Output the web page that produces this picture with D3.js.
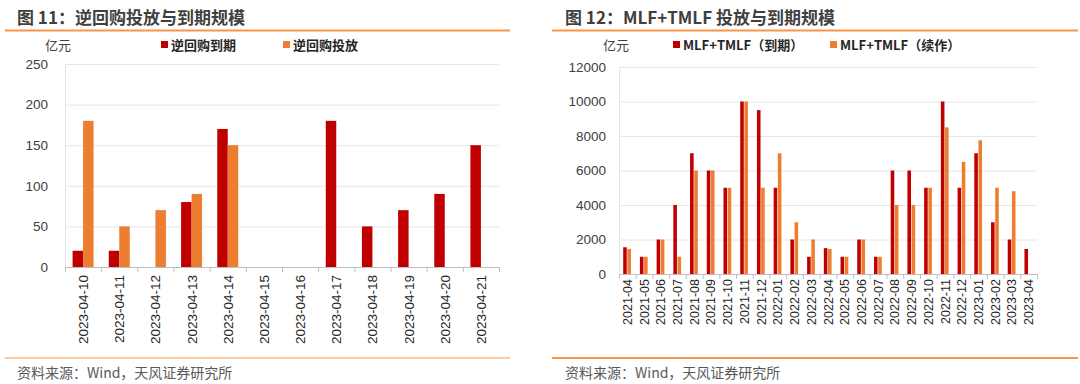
<!DOCTYPE html>
<html>
<head>
<meta charset="utf-8">
<script src="https://cdn.jsdelivr.net/npm/d3@7"></script>
<style>
  body { margin: 0; background: #fff; }
  svg { display: block; font-family: "Noto Sans CJK SC", "Liberation Sans", sans-serif; }
  .grid line { stroke: #e6e6e6; }
  .tick text { fill: #404040; }
</style>
</head>
<body>
<svg id="chart" width="1080" height="384"></svg>
<script>
// left chart: reverse repo
const repoDates = ["2023-04-10","2023-04-11","2023-04-12","2023-04-13","2023-04-14","2023-04-15",
  "2023-04-16","2023-04-17","2023-04-18","2023-04-19","2023-04-20","2023-04-21"];
const repoMaturity = [20, 20, 0, 80, 170, 0, 0, 180, 50, 70, 90, 150];
const repoInjection = [180, 50, 70, 90, 150, 0, 0, 0, 0, 0, 0, 0];
const repoTicks = [0, 50, 100, 150, 200, 250];

// right chart: MLF + TMLF
const mlfMonths = ["2021-04","2021-05","2021-06","2021-07","2021-08","2021-09","2021-10","2021-11","2021-12",
  "2022-01","2022-02","2022-03","2022-04","2022-05","2022-06","2022-07","2022-08","2022-09","2022-10",
  "2022-11","2022-12","2023-01","2023-02","2023-03","2023-04"];
const mlfMaturity = [1550, 1000, 2000, 4000, 7000, 6000, 5000, 10000, 9500, 5000, 2000, 1000, 1500,
  1000, 2000, 1000, 6000, 6000, 5000, 10000, 5000, 7000, 3000, 2000, 1450];
const mlfRollover = [1450, 1000, 2000, 1000, 6000, 6000, 5000, 10000, 5000, 7000, 3000, 2000, 1450,
  1000, 2000, 1000, 4000, 4000, 5000, 8500, 6500, 7750, 5000, 4800, 0];
const mlfTicks = [0, 2000, 4000, 6000, 8000, 10000, 12000];

const RED = "#c00000", ORANGE = "#ed7d31", RULE = "#f79646";
const svg = d3.select("#chart");

function drawPanel(o) {
    const g = svg.append("g");

    // title + rules
    g.append("text")
        .attr("x", o.titleX).attr("y", 24)
        .style("font-size", "17px").style("font-weight", "bold")
        .attr("fill", "#404040")
        .text(o.title);
    g.append("line")
        .attr("x1", o.ruleL).attr("x2", o.ruleR).attr("y1", 30.5).attr("y2", 30.5)
        .attr("stroke", RULE).attr("stroke-width", 2);
    g.append("line")
        .attr("x1", o.ruleL).attr("x2", o.ruleR).attr("y1", 358).attr("y2", 358)
        .attr("stroke", RULE).attr("stroke-width", o.bottomRuleW);
    g.append("text")
        .attr("x", o.titleX).attr("y", 378)
        .style("font-size", "14px").attr("fill", "#595959")
        .text("资料来源：Wind，天风证券研究所");

    // unit + legend
    g.append("text")
        .attr("x", o.unitX).attr("y", 50)
        .style("font-size", "13px").attr("fill", "#404040")
        .text("亿元");
    o.legend.forEach(l => {
        g.append("rect").attr("x", l.x).attr("y", 41).attr("width", 7).attr("height", 7)
            .attr("fill", l.color);
        g.append("text").attr("x", l.x + 10).attr("y", 50)
            .style("font-size", "13px").style("font-weight", "bold").attr("fill", "#262626")
            .text(l.label);
    });

    const x0 = d3.scaleBand().domain(o.cats).range([o.left, o.right]);
    const groupW = x0.bandwidth() * o.groupFrac;
    const x1 = d3.scaleBand().domain([0, 1]).range([0, groupW]);
    const y = d3.scaleLinear().domain([0, o.ticks[o.ticks.length - 1]]).range([o.bottom, o.top]);

    // gridlines
    g.append("g").attr("class", "grid")
        .selectAll("line").data(o.ticks.slice(1)).join("line")
        .attr("x1", o.left).attr("x2", o.right)
        .attr("y1", d => y(d) + 0.5).attr("y2", d => y(d) + 0.5);

    // y axis
    const ya = g.append("g")
        .attr("transform", `translate(${o.left - o.yLabelGap},0)`)
        .call(d3.axisLeft(y).tickValues(o.ticks).tickSize(0).tickFormat(d3.format("d")));
    ya.select(".domain").remove();
    ya.selectAll("text").style("font-size", "13.5px").style("font-family", "Liberation Sans, sans-serif");
    g.append("line").attr("x1", o.left + 0.5).attr("x2", o.left + 0.5)
        .attr("y1", o.top).attr("y2", o.bottom).attr("stroke", "#e6e6e6");

    // bars
    const series = [o.s1, o.s2];
    const colors = [RED, ORANGE];
    series.forEach((vals, si) => {
        g.append("g").selectAll("rect").data(vals).join("rect")
            .attr("x", (d, i) => x0(o.cats[i]) + (x0.bandwidth() - groupW) / 2 + x1(si))
            .attr("y", d => y(d))
            .attr("width", x1.bandwidth() - o.barGap)
            .attr("height", d => o.bottom - y(d))
            .attr("fill", colors[si]);
    });

    // x axis
    g.append("line").attr("x1", o.left).attr("x2", o.right + 1)
        .attr("y1", o.bottom + 0.5).attr("y2", o.bottom + 0.5).attr("stroke", "#bfbfbf");
    g.append("g").selectAll("line").data(o.cats.concat(["end"])).join("line")
        .attr("x1", (d, i) => i < o.cats.length ? x0(d) + 0.5 : o.right + 0.5)
        .attr("x2", (d, i) => i < o.cats.length ? x0(d) + 0.5 : o.right + 0.5)
        .attr("y1", o.bottom).attr("y2", o.bottom + 5)
        .attr("stroke", "#bfbfbf");
    g.append("g").selectAll("text").data(o.cats).join("text")
        .attr("transform", d => `translate(${x0(d) + x0.bandwidth() / 2 + o.labelDx},${o.bottom + o.labelDy}) rotate(-90)`)
        .attr("text-anchor", "end")
        .style("font-size", o.labelSize).style("font-family", "Liberation Sans, sans-serif")
        .attr("fill", "#262626")
        .text(d => d);
}

drawPanel({
    title: "图 11：逆回购投放与到期规模", titleX: 17, ruleL: 5, ruleR: 510, bottomRuleW: 1,
    unitX: 45,
    legend: [{x: 161, color: RED, label: "逆回购到期"}, {x: 283, color: ORANGE, label: "逆回购投放"}],
    cats: repoDates, s1: repoMaturity, s2: repoInjection, ticks: repoTicks,
    left: 65, right: 499, top: 64, bottom: 267, groupFrac: 0.58, barGap: 0,
    yLabelGap: 14, labelDx: 5, labelDy: 8, labelSize: "13.5px"
});

drawPanel({
    title: "图 12：MLF+TMLF 投放与到期规模", titleX: 565, ruleL: 552, ruleR: 1078, bottomRuleW: 2,
    unitX: 603,
    legend: [{x: 673, color: RED, label: "MLF+TMLF（到期）"}, {x: 830, color: ORANGE, label: "MLF+TMLF（续作）"}],
    cats: mlfMonths, s1: mlfMaturity, s2: mlfRollover, ticks: mlfTicks,
    left: 619, right: 1037, top: 67, bottom: 274, groupFrac: 0.5, barGap: 0.6,
    yLabelGap: 10, labelDx: 4.5, labelDy: 5, labelSize: "12.5px"
});
</script>
</body>
</html>
